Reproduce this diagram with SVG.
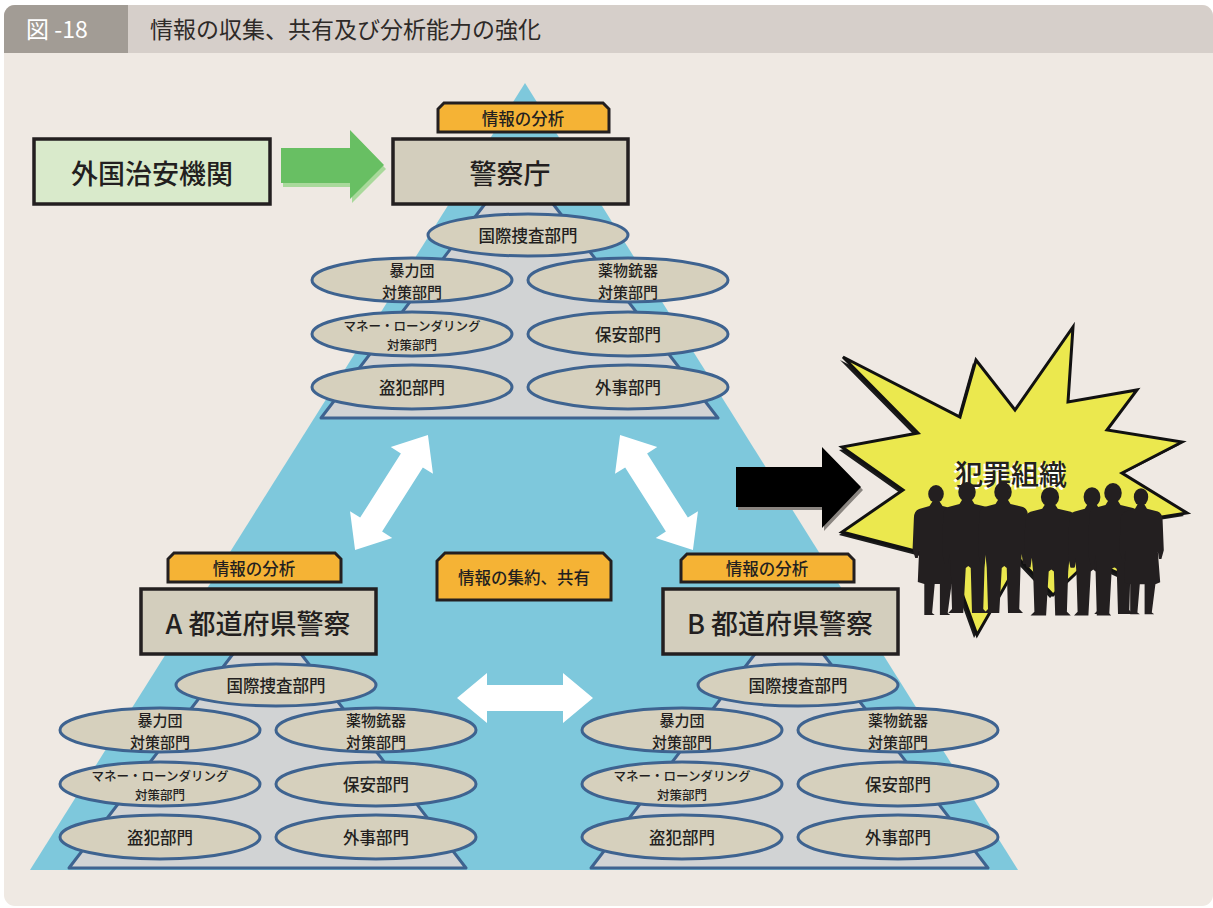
<svg xmlns="http://www.w3.org/2000/svg" width="1213" height="908" viewBox="0 0 1213 908">
  <defs>
    <style>
      text { font-family: "Noto Sans CJK JP", "Noto Sans", sans-serif; fill: #231f20; }
      .hdr { font-size: 23px; fill: #2e2a28; }
      .tab { font-size: 23px; fill: #ffffff; }
      .box { fill: #d3cebd; stroke: #231f20; stroke-width: 3.5; }
      .box-green { fill: #d9eacb; stroke: #231f20; stroke-width: 3.5; }
      .big { font-size: 27px; font-weight: 500; }
      .lbl { fill: #f5b335; stroke: #231f20; stroke-width: 3; }
      .lbl-t { font-size: 16.5px; font-weight: 500; }
      .trap { fill: #d1d3d4; stroke: #3e6390; stroke-width: 3; stroke-linejoin: round; }
      .dept { fill: #d6d0bd; stroke: #3e6390; stroke-width: 3; }
      .dt { font-size: 16.5px; font-weight: 500; }
      .dt2 { font-size: 15px; font-weight: 500; }
      .st { font-size: 12.5px; font-weight: 500; }
      .wa { fill: #ffffff; }
      .fig { fill: #231f20; }
    </style>
    <clipPath id="frameClip">
      <rect x="4" y="5" width="1209" height="901" rx="11"/>
    </clipPath>
    <!-- double-headed white arrow, centred on the origin, pointing along x -->
    <polygon id="dbl" points="-68,0 -38,-25 -38,-13 38,-13 38,-25 68,0 38,25 38,13 -38,13 -38,25"/>
    <!-- silhouettes: head centre at origin -->
    <g id="man">
      <ellipse cx="0" cy="0" rx="7" ry="10"/>
      <path d="M-4 8 L4 8 L6 12 L16 15 Q20 17 20 24 L21 60 L19 72 L16 72 L15 62 L14 76 L13 117 L16 121 L4 121 L3 76 L1 74 L-1 76 L-3 121 L-15 121 L-12 117 L-13 76 L-14 62 L-15 72 L-18 72 L-20 60 L-19 24 Q-19 17 -15 15 L-6 12 Z"/>
    </g>
    <g id="woman">
      <ellipse cx="0" cy="0" rx="6" ry="9"/>
      <path d="M-3 8 L3 8 L5 12 L14 15 Q18 17 18 24 L19 55 L17 64 L15 64 L14 56 L16 88 L12 90 L9 119 L11 121 L3 121 L3 90 L-1 90 L-3 119 L-1 121 L-9 121 L-9 90 L-14 88 L-13 56 L-14 64 L-16 64 L-18 55 L-17 24 Q-17 17 -13 15 L-5 12 Z"/>
    </g>
  </defs>

  <!-- page and frame -->
  <rect x="0" y="0" width="1213" height="908" fill="#ffffff"/>
  <g clip-path="url(#frameClip)">
    <rect x="4" y="5" width="1209" height="901" fill="#efe9e3"/>
    <rect x="4" y="5" width="1209" height="48" fill="#d6cfca"/>
    <rect x="4" y="5" width="124" height="48" fill="#a29c95"/>
  </g>
  <text class="tab" x="26" y="38">図 -18</text>
  <text class="hdr" x="150" y="38">情報の収集、共有及び分析能力の強化</text>

  <!-- large blue pyramid -->
  <polygon points="525,83 1018,870 30,870" fill="#7ec8dc"/>

  <!-- National Police Agency tier -->
  <g id="npa-tier">
    <polygon class="trap" points="488,200 550,200 718,418 321,418"/>
    <g id="npa-intl"><ellipse class="dept" cx="528" cy="235" rx="100" ry="21"/><text class="dt" x="528" y="235" text-anchor="middle" dominant-baseline="central">国際捜査部門</text></g>
    <g id="npa-boryoku"><ellipse class="dept" cx="412" cy="280" rx="100" ry="22"/><text class="dt2" text-anchor="middle" dominant-baseline="central"><tspan x="412" y="269">暴力団</tspan><tspan x="412" y="291">対策部門</tspan></text></g>
    <g id="npa-yakubutsu"><ellipse class="dept" cx="628" cy="280" rx="100" ry="22"/><text class="dt2" text-anchor="middle" dominant-baseline="central"><tspan x="628" y="269">薬物銃器</tspan><tspan x="628" y="291">対策部門</tspan></text></g>
    <g id="npa-money"><ellipse class="dept" cx="412" cy="334" rx="100" ry="22"/><text class="st" text-anchor="middle" dominant-baseline="central"><tspan x="412" y="325">マネー・ローンダリング</tspan><tspan x="412" y="344">対策部門</tspan></text></g>
    <g id="npa-hoan"><ellipse class="dept" cx="628" cy="334" rx="100" ry="22"/><text class="dt" x="628" y="334" text-anchor="middle" dominant-baseline="central">保安部門</text></g>
    <g id="npa-touhan"><ellipse class="dept" cx="412" cy="387" rx="100" ry="22"/><text class="dt" x="412" y="387" text-anchor="middle" dominant-baseline="central">盗犯部門</text></g>
    <g id="npa-gaiji"><ellipse class="dept" cx="628" cy="387" rx="100" ry="22"/><text class="dt" x="628" y="387" text-anchor="middle" dominant-baseline="central">外事部門</text></g>
    <g id="npa"><rect class="box" x="393" y="139" width="235" height="65"/><text class="big" x="510" y="172" text-anchor="middle" dominant-baseline="central">警察庁</text></g>
    <g id="npa-analysis"><path class="lbl" d="M438,132 V109 L444,103 H603 L609,109 V132 Z"/><text class="lbl-t" x="523" y="118" text-anchor="middle" dominant-baseline="central">情報の分析</text></g>
  </g>

  <!-- Prefectural police A -->
  <g id="pref-a-tier" transform="translate(-252,450)">
    <polygon class="trap" points="488,200 550,200 718,418 321,418"/>
    <g id="a-intl"><ellipse class="dept" cx="528" cy="235" rx="100" ry="21"/><text class="dt" x="528" y="235" text-anchor="middle" dominant-baseline="central">国際捜査部門</text></g>
    <g id="a-boryoku"><ellipse class="dept" cx="412" cy="280" rx="100" ry="22"/><text class="dt2" text-anchor="middle" dominant-baseline="central"><tspan x="412" y="269">暴力団</tspan><tspan x="412" y="291">対策部門</tspan></text></g>
    <g id="a-yakubutsu"><ellipse class="dept" cx="628" cy="280" rx="100" ry="22"/><text class="dt2" text-anchor="middle" dominant-baseline="central"><tspan x="628" y="269">薬物銃器</tspan><tspan x="628" y="291">対策部門</tspan></text></g>
    <g id="a-money"><ellipse class="dept" cx="412" cy="334" rx="100" ry="22"/><text class="st" text-anchor="middle" dominant-baseline="central"><tspan x="412" y="325">マネー・ローンダリング</tspan><tspan x="412" y="344">対策部門</tspan></text></g>
    <g id="a-hoan"><ellipse class="dept" cx="628" cy="334" rx="100" ry="22"/><text class="dt" x="628" y="334" text-anchor="middle" dominant-baseline="central">保安部門</text></g>
    <g id="a-touhan"><ellipse class="dept" cx="412" cy="387" rx="100" ry="22"/><text class="dt" x="412" y="387" text-anchor="middle" dominant-baseline="central">盗犯部門</text></g>
    <g id="a-gaiji"><ellipse class="dept" cx="628" cy="387" rx="100" ry="22"/><text class="dt" x="628" y="387" text-anchor="middle" dominant-baseline="central">外事部門</text></g>
    <g id="pref-a"><rect class="box" x="393" y="139" width="235" height="65"/><text class="big" x="510" y="172" text-anchor="middle" dominant-baseline="central">A 都道府県警察</text></g>
  </g>
  <g id="pref-a-analysis"><path class="lbl" d="M168,582 V559 L174,553 H335 L341,559 V582 Z"/><text class="lbl-t" x="254" y="568" text-anchor="middle" dominant-baseline="central">情報の分析</text></g>

  <!-- Prefectural police B -->
  <g id="pref-b-tier" transform="translate(270,450)">
    <polygon class="trap" points="488,200 550,200 718,418 321,418"/>
    <g id="b-intl"><ellipse class="dept" cx="528" cy="235" rx="100" ry="21"/><text class="dt" x="528" y="235" text-anchor="middle" dominant-baseline="central">国際捜査部門</text></g>
    <g id="b-boryoku"><ellipse class="dept" cx="412" cy="280" rx="100" ry="22"/><text class="dt2" text-anchor="middle" dominant-baseline="central"><tspan x="412" y="269">暴力団</tspan><tspan x="412" y="291">対策部門</tspan></text></g>
    <g id="b-yakubutsu"><ellipse class="dept" cx="628" cy="280" rx="100" ry="22"/><text class="dt2" text-anchor="middle" dominant-baseline="central"><tspan x="628" y="269">薬物銃器</tspan><tspan x="628" y="291">対策部門</tspan></text></g>
    <g id="b-money"><ellipse class="dept" cx="412" cy="334" rx="100" ry="22"/><text class="st" text-anchor="middle" dominant-baseline="central"><tspan x="412" y="325">マネー・ローンダリング</tspan><tspan x="412" y="344">対策部門</tspan></text></g>
    <g id="b-hoan"><ellipse class="dept" cx="628" cy="334" rx="100" ry="22"/><text class="dt" x="628" y="334" text-anchor="middle" dominant-baseline="central">保安部門</text></g>
    <g id="b-touhan"><ellipse class="dept" cx="412" cy="387" rx="100" ry="22"/><text class="dt" x="412" y="387" text-anchor="middle" dominant-baseline="central">盗犯部門</text></g>
    <g id="b-gaiji"><ellipse class="dept" cx="628" cy="387" rx="100" ry="22"/><text class="dt" x="628" y="387" text-anchor="middle" dominant-baseline="central">外事部門</text></g>
    <g id="pref-b"><rect class="box" x="393" y="139" width="235" height="65"/><text class="big" x="510" y="172" text-anchor="middle" dominant-baseline="central">B 都道府県警察</text></g>
  </g>
  <g id="pref-b-analysis"><path class="lbl" d="M681,582 V560 L687,554 H848 L854,560 V582 Z"/><text class="lbl-t" x="767" y="568" text-anchor="middle" dominant-baseline="central">情報の分析</text></g>

  <!-- shared collection label -->
  <g id="sharing"><path class="lbl" d="M437,600 V561 L445,553 H603 L611,561 V600 Z"/><text class="lbl-t" x="524" y="577" text-anchor="middle" dominant-baseline="central">情報の集約、共有</text></g>

  <!-- foreign agencies -->
  <g id="foreign"><rect class="box-green" x="34" y="139" width="236" height="65"/><text class="big" x="152" y="172" text-anchor="middle" dominant-baseline="central">外国治安機関</text></g>

  <!-- criminal organisation -->
  <g id="crime-org">
    <polygon points="843,357 960,417 976,360 1015,410 1073,327 1068,402 1137,390 1107,430 1182,442 1122,473 1187,513 1130,522 1133,580 1090,560 1053,595 1020,560 977,635 950,560 842,532 903,490 842,447 918,433" fill="#1a1a1a" transform="translate(-3,3)"/>
    <polygon points="843,357 960,417 976,360 1015,410 1073,327 1068,402 1137,390 1107,430 1182,442 1122,473 1187,513 1130,522 1133,580 1090,560 1053,595 1020,560 977,635 950,560 842,532 903,490 842,447 918,433" fill="#ebe84e" stroke="#111111" stroke-width="3" stroke-linejoin="miter"/>
    <text x="1011" y="473" font-size="28" font-weight="500" text-anchor="middle" dominant-baseline="central" style="fill:#ffffff" transform="translate(-2,2)">犯罪組織</text>
    <text x="1011" y="473" font-size="28" font-weight="500" text-anchor="middle" dominant-baseline="central">犯罪組織</text>
    <g class="fig">
      <use href="#woman" transform="translate(936,494) scale(1.3,1)"/>
      <use href="#man" transform="translate(967,492) scale(1.25,1)"/>
      <use href="#man" transform="translate(1003,492) scale(1.25,1)"/>
      <use href="#man" transform="translate(1050,497) scale(1.3,0.98)"/>
      <use href="#man" transform="translate(1092,497) scale(1.2,0.98)"/>
      <use href="#man" transform="translate(1113,493) scale(1.25,1)"/>
      <use href="#woman" transform="translate(1141,497) scale(1.2,0.97)"/>
    </g>
  </g>

  <!-- connectors -->
  <g id="connectors">
    <polygon points="283,152 352,152 352,134 386,169 352,203 352,187 283,187" fill="#a9d99b"/>
    <polygon points="281,148 350,148 350,130 384,165 350,199 350,183 281,183" fill="#68bf63"/>
    <polygon points="738,470 824,470 824,450 863,490 824,531 824,510 738,510" fill="#8a8580"/>
    <polygon points="736,467 822,467 822,447 861,487 822,528 822,507 736,507" fill="#000000"/>
    <use href="#dbl" class="wa" transform="translate(391.5,492.5) rotate(122.4)"/>
    <use href="#dbl" class="wa" transform="translate(656.5,492.5) rotate(57.6)"/>
    <use href="#dbl" class="wa" transform="translate(525,698)"/>
  </g>
</svg>
